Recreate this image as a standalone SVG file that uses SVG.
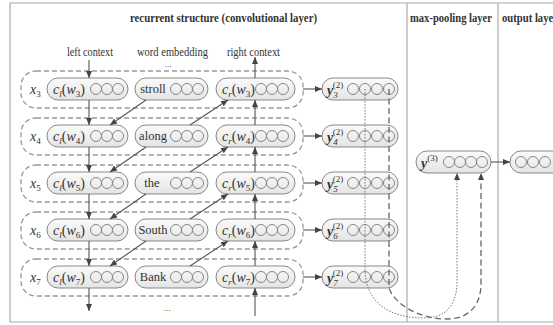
<svg xmlns="http://www.w3.org/2000/svg" width="553" height="325" viewBox="0 0 553 325">
  <style>
    text { font-family: "Liberation Serif", "DejaVu Serif", serif; fill: #333; }
    .title { font-weight: bold; font-size: 12.5px; }
    .lab { font-size: 12px; }
    .it { font-style: italic; }
    .m { font-size: 14px; }
    .w { font-size: 12.5px; }
    .s { font-size: 9px; }
    .bi { font-weight: bold; font-style: italic; }
    .frame { fill: none; stroke: #aaa; stroke-width: 1.2; }
    .rowbox { fill: none; stroke: #999; stroke-width: 1.3; stroke-dasharray: 5 3; }
    .pill { fill: url(#pillFill); stroke: #888; stroke-width: 1; }
    .unit { fill: none; stroke: #888; stroke-width: 1; }
    .arr { fill: none; stroke: #555; stroke-width: 1.1; marker-end: url(#ah); }
    .dot { fill: none; stroke: #777; stroke-width: 1; stroke-dasharray: 1.5 1.5; }
    .dash { fill: none; stroke: #666; stroke-width: 1.3; stroke-dasharray: 6 3.5; }
  </style>
  <defs>
    <linearGradient id="pillFill" x1="0" y1="0" x2="0" y2="1">
      <stop offset="0" stop-color="#fbfbfb"/>
      <stop offset="1" stop-color="#e4e4e4"/>
    </linearGradient>
    <marker id="ah" markerWidth="8" markerHeight="8" refX="7" refY="4" orient="auto" markerUnits="userSpaceOnUse">
      <path d="M0,1 L7,4 L0,7 z" fill="#444"/>
    </marker>
  </defs>

  <rect width="553" height="325" fill="#fff"/>

  <!-- outer frame and layer dividers -->
  <g id="frame">
    <path class="frame" d="M560,3 H10 V322 H560"/>
    <line class="frame" x1="407" y1="3" x2="407" y2="322"/>
    <line class="frame" x1="498" y1="3" x2="498" y2="322"/>
    <text class="title" x="130" y="22" textLength="187" lengthAdjust="spacingAndGlyphs">recurrent structure (convolutional layer)</text>
    <text class="title" x="410" y="22" textLength="82" lengthAdjust="spacingAndGlyphs">max-pooling layer</text>
    <text class="title" x="502" y="22" textLength="56" lengthAdjust="spacingAndGlyphs">output layer</text>
  </g>

  <!-- column headings -->
  <g id="headings">
    <text class="lab" x="67" y="56" textLength="46" lengthAdjust="spacingAndGlyphs">left context</text>
    <text class="lab" x="137" y="56" textLength="71" lengthAdjust="spacingAndGlyphs">word embedding</text>
    <text class="lab" x="227" y="56" textLength="53" lengthAdjust="spacingAndGlyphs">right context</text>
    <text class="s" x="168" y="67" text-anchor="middle">...</text>
    <text class="s" x="167" y="311" text-anchor="middle">...</text>
  </g>

  <!-- row x3 -->
  <g id="row-x3">
    <rect class="rowbox" x="21" y="71" width="282" height="37" rx="15"/>
    <text class="m it" x="30" y="94">x<tspan class="s" dy="3" font-style="normal">3</tspan></text>
    <g id="cl-w3">
      <rect class="pill" x="47" y="78" width="81" height="22" rx="11"/>
      <text class="m" x="53" y="94"><tspan class="it">c</tspan><tspan class="s it" dy="3">l</tspan><tspan dy="-3">(</tspan><tspan class="it">w</tspan><tspan class="s" dy="3">3</tspan><tspan dy="-3">)</tspan></text>
      <circle class="unit" cx="96" cy="89" r="5.5"/><circle class="unit" cx="107" cy="89" r="5.5"/><circle class="unit" cx="118" cy="89" r="5.5"/>
    </g>
    <g id="emb-w3">
      <rect class="pill" x="135" y="78" width="73" height="22" rx="11"/>
      <text class="w" x="153" y="93" text-anchor="middle">stroll</text>
      <circle class="unit" cx="176" cy="89" r="5.5"/><circle class="unit" cx="187" cy="89" r="5.5"/><circle class="unit" cx="198" cy="89" r="5.5"/>
    </g>
    <g id="cr-w3">
      <rect class="pill" x="216" y="78" width="79" height="22" rx="11"/>
      <text class="m" x="222" y="94"><tspan class="it">c</tspan><tspan class="s it" dy="3">r</tspan><tspan dy="-3">(</tspan><tspan class="it">w</tspan><tspan class="s" dy="3">3</tspan><tspan dy="-3">)</tspan></text>
      <circle class="unit" cx="261" cy="89" r="5.5"/><circle class="unit" cx="272" cy="89" r="5.5"/><circle class="unit" cx="283" cy="89" r="5.5"/>
    </g>
  </g>

  <!-- row x4 -->
  <g id="row-x4">
    <rect class="rowbox" x="21" y="118" width="282" height="37" rx="15"/>
    <text class="m it" x="30" y="141">x<tspan class="s" dy="3" font-style="normal">4</tspan></text>
    <g id="cl-w4">
      <rect class="pill" x="47" y="125" width="81" height="22" rx="11"/>
      <text class="m" x="53" y="141"><tspan class="it">c</tspan><tspan class="s it" dy="3">l</tspan><tspan dy="-3">(</tspan><tspan class="it">w</tspan><tspan class="s" dy="3">4</tspan><tspan dy="-3">)</tspan></text>
      <circle class="unit" cx="96" cy="136" r="5.5"/><circle class="unit" cx="107" cy="136" r="5.5"/><circle class="unit" cx="118" cy="136" r="5.5"/>
    </g>
    <g id="emb-w4">
      <rect class="pill" x="135" y="125" width="73" height="22" rx="11"/>
      <text class="w" x="153" y="140" text-anchor="middle">along</text>
      <circle class="unit" cx="176" cy="136" r="5.5"/><circle class="unit" cx="187" cy="136" r="5.5"/><circle class="unit" cx="198" cy="136" r="5.5"/>
    </g>
    <g id="cr-w4">
      <rect class="pill" x="216" y="125" width="79" height="22" rx="11"/>
      <text class="m" x="222" y="141"><tspan class="it">c</tspan><tspan class="s it" dy="3">r</tspan><tspan dy="-3">(</tspan><tspan class="it">w</tspan><tspan class="s" dy="3">4</tspan><tspan dy="-3">)</tspan></text>
      <circle class="unit" cx="261" cy="136" r="5.5"/><circle class="unit" cx="272" cy="136" r="5.5"/><circle class="unit" cx="283" cy="136" r="5.5"/>
    </g>
  </g>

  <!-- row x5 -->
  <g id="row-x5">
    <rect class="rowbox" x="21" y="165" width="282" height="37" rx="15"/>
    <text class="m it" x="30" y="188">x<tspan class="s" dy="3" font-style="normal">5</tspan></text>
    <g id="cl-w5">
      <rect class="pill" x="47" y="172" width="81" height="22" rx="11"/>
      <text class="m" x="53" y="188"><tspan class="it">c</tspan><tspan class="s it" dy="3">l</tspan><tspan dy="-3">(</tspan><tspan class="it">w</tspan><tspan class="s" dy="3">5</tspan><tspan dy="-3">)</tspan></text>
      <circle class="unit" cx="96" cy="183" r="5.5"/><circle class="unit" cx="107" cy="183" r="5.5"/><circle class="unit" cx="118" cy="183" r="5.5"/>
    </g>
    <g id="emb-w5">
      <rect class="pill" x="135" y="172" width="73" height="22" rx="11"/>
      <text class="w" x="152" y="187" text-anchor="middle">the</text>
      <circle class="unit" cx="176" cy="183" r="5.5"/><circle class="unit" cx="187" cy="183" r="5.5"/><circle class="unit" cx="198" cy="183" r="5.5"/>
    </g>
    <g id="cr-w5">
      <rect class="pill" x="216" y="172" width="79" height="22" rx="11"/>
      <text class="m" x="222" y="188"><tspan class="it">c</tspan><tspan class="s it" dy="3">r</tspan><tspan dy="-3">(</tspan><tspan class="it">w</tspan><tspan class="s" dy="3">5</tspan><tspan dy="-3">)</tspan></text>
      <circle class="unit" cx="261" cy="183" r="5.5"/><circle class="unit" cx="272" cy="183" r="5.5"/><circle class="unit" cx="283" cy="183" r="5.5"/>
    </g>
  </g>

  <!-- row x6 -->
  <g id="row-x6">
    <rect class="rowbox" x="21" y="212" width="282" height="37" rx="15"/>
    <text class="m it" x="30" y="235">x<tspan class="s" dy="3" font-style="normal">6</tspan></text>
    <g id="cl-w6">
      <rect class="pill" x="47" y="219" width="81" height="22" rx="11"/>
      <text class="m" x="53" y="235"><tspan class="it">c</tspan><tspan class="s it" dy="3">l</tspan><tspan dy="-3">(</tspan><tspan class="it">w</tspan><tspan class="s" dy="3">6</tspan><tspan dy="-3">)</tspan></text>
      <circle class="unit" cx="96" cy="230" r="5.5"/><circle class="unit" cx="107" cy="230" r="5.5"/><circle class="unit" cx="118" cy="230" r="5.5"/>
    </g>
    <g id="emb-w6">
      <rect class="pill" x="135" y="219" width="73" height="22" rx="11"/>
      <text class="w" x="153" y="234" text-anchor="middle">South</text>
      <circle class="unit" cx="176" cy="230" r="5.5"/><circle class="unit" cx="187" cy="230" r="5.5"/><circle class="unit" cx="198" cy="230" r="5.5"/>
    </g>
    <g id="cr-w6">
      <rect class="pill" x="216" y="219" width="79" height="22" rx="11"/>
      <text class="m" x="222" y="235"><tspan class="it">c</tspan><tspan class="s it" dy="3">r</tspan><tspan dy="-3">(</tspan><tspan class="it">w</tspan><tspan class="s" dy="3">6</tspan><tspan dy="-3">)</tspan></text>
      <circle class="unit" cx="261" cy="230" r="5.5"/><circle class="unit" cx="272" cy="230" r="5.5"/><circle class="unit" cx="283" cy="230" r="5.5"/>
    </g>
  </g>

  <!-- row x7 -->
  <g id="row-x7">
    <rect class="rowbox" x="21" y="259" width="282" height="37" rx="15"/>
    <text class="m it" x="30" y="282">x<tspan class="s" dy="3" font-style="normal">7</tspan></text>
    <g id="cl-w7">
      <rect class="pill" x="47" y="266" width="81" height="22" rx="11"/>
      <text class="m" x="53" y="282"><tspan class="it">c</tspan><tspan class="s it" dy="3">l</tspan><tspan dy="-3">(</tspan><tspan class="it">w</tspan><tspan class="s" dy="3">7</tspan><tspan dy="-3">)</tspan></text>
      <circle class="unit" cx="96" cy="277" r="5.5"/><circle class="unit" cx="107" cy="277" r="5.5"/><circle class="unit" cx="118" cy="277" r="5.5"/>
    </g>
    <g id="emb-w7">
      <rect class="pill" x="135" y="266" width="73" height="22" rx="11"/>
      <text class="w" x="153" y="281" text-anchor="middle">Bank</text>
      <circle class="unit" cx="176" cy="277" r="5.5"/><circle class="unit" cx="187" cy="277" r="5.5"/><circle class="unit" cx="198" cy="277" r="5.5"/>
    </g>
    <g id="cr-w7">
      <rect class="pill" x="216" y="266" width="79" height="22" rx="11"/>
      <text class="m" x="222" y="282"><tspan class="it">c</tspan><tspan class="s it" dy="3">r</tspan><tspan dy="-3">(</tspan><tspan class="it">w</tspan><tspan class="s" dy="3">7</tspan><tspan dy="-3">)</tspan></text>
      <circle class="unit" cx="261" cy="277" r="5.5"/><circle class="unit" cx="272" cy="277" r="5.5"/><circle class="unit" cx="283" cy="277" r="5.5"/>
    </g>
  </g>

  <!-- convolutional outputs y(2) -->
  <g id="y2-3">
    <rect class="pill" x="322" y="78" width="76" height="22" rx="11"/>
    <text class="m bi" x="327" y="95">y<tspan class="s" dy="3" font-weight="normal">3</tspan><tspan class="s" dx="-5" dy="-10" font-style="normal" font-weight="normal">(2)</tspan></text>
    <circle class="unit" cx="353" cy="89" r="5.5"/><circle class="unit" cx="365" cy="89" r="5.5"/><circle class="unit" cx="377" cy="89" r="5.5"/><circle class="unit" cx="389" cy="89" r="5.5"/>
  </g>
  <g id="y2-4">
    <rect class="pill" x="322" y="125" width="76" height="22" rx="11"/>
    <text class="m bi" x="327" y="142">y<tspan class="s" dy="3" font-weight="normal">4</tspan><tspan class="s" dx="-5" dy="-10" font-style="normal" font-weight="normal">(2)</tspan></text>
    <circle class="unit" cx="353" cy="136" r="5.5"/><circle class="unit" cx="365" cy="136" r="5.5"/><circle class="unit" cx="377" cy="136" r="5.5"/><circle class="unit" cx="389" cy="136" r="5.5"/>
  </g>
  <g id="y2-5">
    <rect class="pill" x="322" y="172" width="76" height="22" rx="11"/>
    <text class="m bi" x="327" y="189">y<tspan class="s" dy="3" font-weight="normal">5</tspan><tspan class="s" dx="-5" dy="-10" font-style="normal" font-weight="normal">(2)</tspan></text>
    <circle class="unit" cx="353" cy="183" r="5.5"/><circle class="unit" cx="365" cy="183" r="5.5"/><circle class="unit" cx="377" cy="183" r="5.5"/><circle class="unit" cx="389" cy="183" r="5.5"/>
  </g>
  <g id="y2-6">
    <rect class="pill" x="322" y="219" width="76" height="22" rx="11"/>
    <text class="m bi" x="327" y="236">y<tspan class="s" dy="3" font-weight="normal">6</tspan><tspan class="s" dx="-5" dy="-10" font-style="normal" font-weight="normal">(2)</tspan></text>
    <circle class="unit" cx="353" cy="230" r="5.5"/><circle class="unit" cx="365" cy="230" r="5.5"/><circle class="unit" cx="377" cy="230" r="5.5"/><circle class="unit" cx="389" cy="230" r="5.5"/>
  </g>
  <g id="y2-7">
    <rect class="pill" x="322" y="266" width="76" height="22" rx="11"/>
    <text class="m bi" x="327" y="283">y<tspan class="s" dy="3" font-weight="normal">7</tspan><tspan class="s" dx="-5" dy="-10" font-style="normal" font-weight="normal">(2)</tspan></text>
    <circle class="unit" cx="353" cy="277" r="5.5"/><circle class="unit" cx="365" cy="277" r="5.5"/><circle class="unit" cx="377" cy="277" r="5.5"/><circle class="unit" cx="389" cy="277" r="5.5"/>
  </g>

  <!-- max-pooling output y(3) -->
  <g id="y3">
    <rect class="pill" x="416" y="151" width="75" height="22" rx="11"/>
    <text class="m bi" x="421" y="168">y<tspan class="s" dy="-7" font-style="normal" font-weight="normal">(3)</tspan></text>
    <circle class="unit" cx="449" cy="162" r="5.5"/><circle class="unit" cx="460" cy="162" r="5.5"/><circle class="unit" cx="471" cy="162" r="5.5"/><circle class="unit" cx="482" cy="162" r="5.5"/>
  </g>

  <!-- output layer -->
  <g id="output">
    <rect class="pill" x="510" y="151" width="60" height="22" rx="11"/>
    <circle class="unit" cx="521" cy="162" r="5.5"/><circle class="unit" cx="533" cy="162" r="5.5"/><circle class="unit" cx="545" cy="162" r="5.5"/>
  </g>

  <!-- connectors -->
  <g id="connectors">
    <!-- left context, flowing down -->
    <path class="arr" d="M89,60 V78"/>
    <path class="arr" d="M89,100 V125"/>
    <path class="arr" d="M89,147 V172"/>
    <path class="arr" d="M89,194 V219"/>
    <path class="arr" d="M89,241 V266"/>
    <path class="arr" d="M89,288 V311"/>
    <!-- right context, flowing up -->
    <path class="arr" d="M255,78 V57"/>
    <path class="arr" d="M255,125 V100"/>
    <path class="arr" d="M255,172 V147"/>
    <path class="arr" d="M255,219 V194"/>
    <path class="arr" d="M255,266 V241"/>
    <path class="arr" d="M255,316 V288"/>
    <!-- embedding into next left context -->
    <path class="arr" d="M146,100 L110,125"/>
    <path class="arr" d="M146,147 L110,172"/>
    <path class="arr" d="M146,194 L110,219"/>
    <path class="arr" d="M146,241 L110,266"/>
    <!-- embedding into previous right context -->
    <path class="arr" d="M190,125 L228,100"/>
    <path class="arr" d="M190,172 L228,147"/>
    <path class="arr" d="M190,219 L228,194"/>
    <path class="arr" d="M190,266 L228,241"/>
    <!-- rows to convolutional outputs -->
    <path class="arr" d="M303,89 H322"/>
    <path class="arr" d="M303,136 H322"/>
    <path class="arr" d="M303,183 H322"/>
    <path class="arr" d="M303,230 H322"/>
    <path class="arr" d="M303,277 H322"/>
    <!-- max over time -->
    <path class="dot" d="M365,89 V268 C365,305 392,318 425,318 C448,318 457,302 457,282 V179"/>
    <path class="dash" d="M389,89 V288 C395,305 420,319 447,319 C470,319 481,304 481,284 V179"/>
    <path d="M454,180 L457,173 L460,180 z" fill="#444"/>
    <path d="M478,180 L481,173 L484,180 z" fill="#444"/>
    <!-- pooled to output -->
    <path class="arr" d="M491,162 H510"/>
  </g>
</svg>
